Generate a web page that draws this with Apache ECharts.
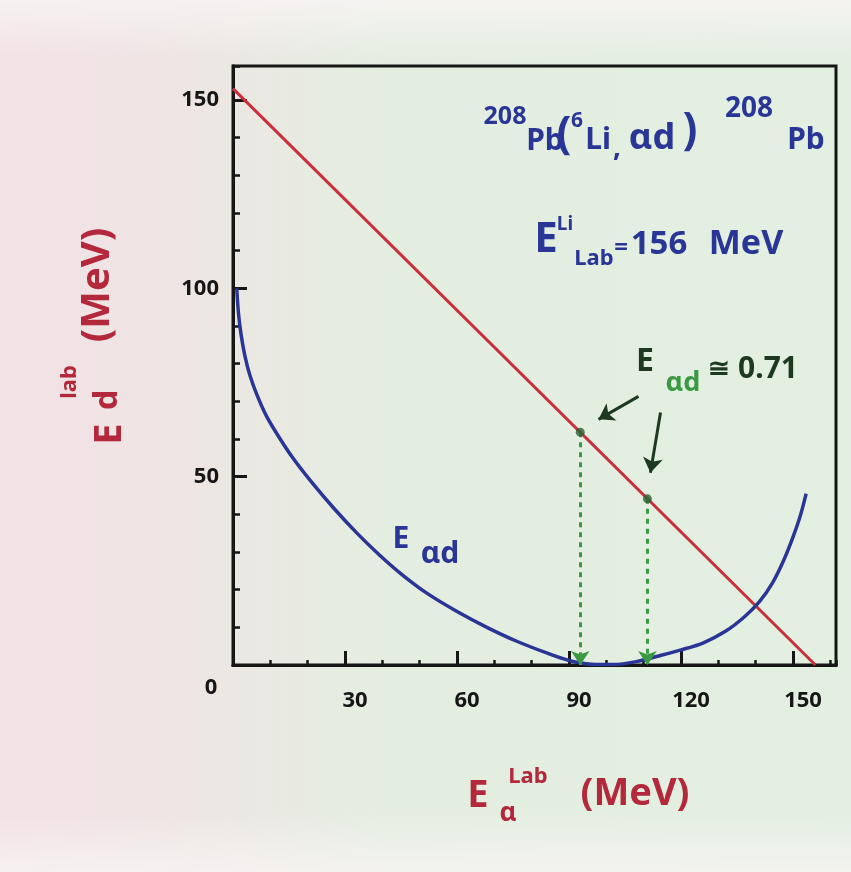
<!DOCTYPE html>
<html>
<head>
<meta charset="utf-8">
<script src="https://cdn.jsdelivr.net/npm/echarts@6/dist/echarts.min.js"></script>
<style>
  html, body { margin: 0; padding: 0; background: #e8ece3; }
  #chart { width: 851px; height: 872px; }
</style>
</head>
<body>
<div id="chart"></div>
<script>
// Energy sharing in the breakup 208Pb(6Li,αd)208Pb at E_Li = 156 MeV

// axis ranges and tick steps (MeV)
const xMax = 161.5, xMinorStep = 10, xMajorStep = 30;
const yMax = 159, yMinorStep = 10, yMajorStep = 50;

// kinematic line: deuteron lab energy against alpha lab energy
const kinAlpha = [0, 156];
const kinDeut = [153, 0];

// relative alpha-deuteron energy E_αd along the kinematic locus
const relAlpha = [1, 1.5, 2.2, 3.2, 4.5, 6.5, 9, 12, 16, 21, 27, 33, 39, 45, 52, 60, 68, 76, 84, 90, 96, 102, 108, 114, 120, 126, 132, 137, 141, 144.5, 147.5, 150, 152, 153.5];
const relEnergy = [100, 93, 87.5, 82, 77, 71.5, 66, 61, 55, 48.6, 41.6, 35.2, 29.4, 24.2, 19, 14.2, 10, 6.3, 3.2, 1.2, 0.2, 0.1, 0.9, 2.4, 4.0, 5.9, 9.0, 12.8, 16.8, 21.8, 27.8, 34, 39.8, 45.5];

// the two points on the locus where E_αd ≈ 0.71 MeV
const markAlpha = [93, 111];
const markDeut = [61.8, 44.1];

// pointer arrows from the annotation towards those points
const pointerFrom = [[108.6, 71.3], [114.5, 67]];
const pointerTo = [[97.9, 65.2], [111.8, 51]];

const INK = '#161616';
const RED = '#b3283b';
const BLUE = '#2a3696';
const GREEN = '#3a9a44';
const DARKGREEN = '#1d3a20';
const FONT = '"Noto Sans"';

const zip = (a, b) => a.map((v, i) => [v, b[i]]);

function txt(text, x, y, size, color, rot) {
  return {
    type: 'text', x: x, y: y, rotation: rot || 0, z: 20,
    style: {
      text: text, fill: color, font: 'bold ' + size + 'px ' + FONT,
      align: 'center', verticalAlign: 'middle'
    }
  };
}

const R90 = Math.PI / 2;

const labels = [
  // reaction
  txt('208', 505, 117, 25, BLUE), txt('Pb', 545, 141, 30, BLUE),
  txt('(', 564, 135, 44, BLUE), txt('6', 577, 121, 21, BLUE),
  txt('Li', 598, 140, 30, BLUE), txt(',', 617, 148, 28, BLUE),
  txt('αd', 652, 139, 36, BLUE), txt(')', 690, 131, 44, BLUE),
  txt('208', 749, 109, 28, BLUE), txt('Pb', 806, 140, 30, BLUE),
  // beam energy
  txt('E', 546, 240, 42, BLUE), txt('Li', 565, 225, 19, BLUE),
  txt('Lab', 594, 259, 22, BLUE), txt('=', 621, 248, 24, BLUE),
  txt('156', 659, 245, 33, BLUE), txt('MeV', 746, 244, 34, BLUE),
  // E_αd annotation
  txt('E', 645, 362, 32, DARKGREEN), txt('αd', 683, 383, 27, GREEN),
  txt('≅', 719, 370, 26, DARKGREEN), txt('0.71', 768, 369, 30, DARKGREEN),
  // curve label
  txt('E', 401, 539, 30, BLUE), txt('αd', 440, 554, 30, BLUE),
  // x axis title
  txt('E', 478, 796, 38, RED), txt('α', 508, 814, 26, RED),
  txt('Lab', 528, 777, 22, RED), txt('(MeV)', 635, 794, 38, RED),
  // y axis title
  txt('E', 110, 434, 38, RED, R90), txt('d', 108, 400, 32, RED, R90),
  txt('lab', 70, 382, 22, RED, R90), txt('(MeV)', 98, 285, 40, RED, R90)
];

// paper haze along the top and bottom edges
const haze = [
  {
    type: 'rect', z: -1, shape: { x: 0, y: 0, width: 851, height: 60 },
    style: { fill: { type: 'linear', x: 0, y: 0, x2: 0, y2: 1,
      colorStops: [{ offset: 0, color: 'rgba(248,244,244,0.85)' }, { offset: 1, color: 'rgba(248,244,244,0)' }] } }
  },
  {
    type: 'rect', z: -1, shape: { x: 0, y: 812, width: 851, height: 60 },
    style: { fill: { type: 'linear', x: 0, y: 0, x2: 0, y2: 1,
      colorStops: [{ offset: 0, color: 'rgba(248,244,244,0)' }, { offset: 1, color: 'rgba(248,244,244,0.8)' }] } }
  }
];

const tickLabelStyle = { color: INK, fontFamily: FONT, fontWeight: 'bold', fontSize: 22 };
const axisLine = { show: true, lineStyle: { color: INK, width: 3 } };

const option = {
  animation: false,
  backgroundColor: {
    type: 'linear', x: 0, y: 0, x2: 1, y2: 0,
    colorStops: [
      { offset: 0, color: '#f2e1e5' },
      { offset: 0.18, color: '#efe4e4' },
      { offset: 0.45, color: '#e4eee0' },
      { offset: 1, color: '#e2efe1' }
    ]
  },
  grid: {
    left: 233, right: 15, top: 66, bottom: 207,
    show: true, borderColor: INK, borderWidth: 3
  },
  xAxis: [
    {
      type: 'value', position: 'bottom', min: 0, max: xMax, interval: xMinorStep,
      axisLine: axisLine,
      axisTick: { show: true, inside: true, length: 5, lineStyle: { color: INK, width: 2.5 } },
      axisLabel: { show: false },
      splitLine: { show: false }
    },
    {
      type: 'value', position: 'bottom', min: 0, max: xMax, interval: xMajorStep,
      axisLine: axisLine,
      axisTick: { show: true, inside: true, length: 14, lineStyle: { color: INK, width: 3 } },
      axisLabel: {
        margin: 12, showMaxLabel: false,
        formatter: v => (v % xMajorStep !== 0 ? '' : (v === 0 ? '{o|0}' : '{n|' + v + '}')),
        rich: {
          o: Object.assign({ padding: [0, 44, 0, 0] }, tickLabelStyle),
          n: Object.assign({ padding: [13, 0, 0, 20] }, tickLabelStyle)
        }
      },
      splitLine: { show: false }
    }
  ],
  yAxis: [
    {
      type: 'value', position: 'left', min: 0, max: yMax, interval: yMinorStep,
      axisLine: axisLine,
      axisTick: { show: true, inside: true, length: 7, lineStyle: { color: INK, width: 2.5 } },
      axisLabel: { show: false },
      splitLine: { show: false }
    },
    {
      type: 'value', position: 'left', min: 0, max: yMax, interval: yMajorStep,
      axisLine: axisLine,
      axisTick: { show: true, inside: true, length: 14, lineStyle: { color: INK, width: 3 } },
      axisLabel: Object.assign({
        margin: 14, showMinLabel: false, showMaxLabel: false,
        formatter: v => (v % yMajorStep === 0 ? String(v) : '')
      }, tickLabelStyle),
      splitLine: { show: false }
    }
  ],
  graphic: haze.concat(labels),
  series: [
    {
      name: 'kinematic locus', type: 'line', data: zip(kinAlpha, kinDeut),
      symbol: 'none', z: 3,
      lineStyle: { color: '#c8303c', width: 3 }
    },
    {
      name: 'E_ad', type: 'line', data: zip(relAlpha, relEnergy),
      smooth: 0.3, symbol: 'none', z: 4,
      lineStyle: { color: BLUE, width: 3.5 }
    },
    {
      name: 'E_ad = 0.71 MeV', type: 'scatter', data: zip(markAlpha, markDeut),
      symbolSize: 9, z: 6,
      itemStyle: { color: '#2d5f31' },
      markLine: {
        silent: true, animation: false, label: { show: false },
        symbolSize: 14,
        lineStyle: { color: GREEN, width: 3, type: [5, 5] },
        data: markAlpha.map((a, i) => [
          { coord: [a, markDeut[i]], symbol: 'none' },
          { coord: [a, 0], symbol: 'arrow' }
        ])
      }
    },
    {
      name: 'pointers', type: 'scatter', data: [], z: 6,
      markLine: {
        silent: true, animation: false, label: { show: false },
        symbolSize: 15,
        lineStyle: { color: DARKGREEN, width: 3, type: 'solid' },
        data: pointerFrom.map((p, i) => [
          { coord: p, symbol: 'none' },
          { coord: pointerTo[i], symbol: 'arrow' }
        ])
      }
    }
  ]
};

const chart = echarts.init(document.getElementById('chart'), null, { renderer: 'canvas' });
chart.setOption(option);
</script>
</body>
</html>
